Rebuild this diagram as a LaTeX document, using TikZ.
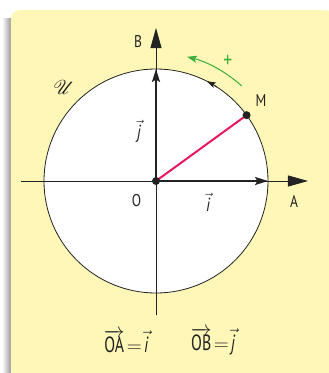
\documentclass[tikz,border=0pt]{standalone}
\usepackage{fontspec}
\usepackage{mathrsfs}
\usepackage{graphicx}
\setmainfont{PT Sans}[FakeStretch=0.8]
\newfontfamily\condfont{PT Sans}[FakeStretch=0.72]
\usetikzlibrary{arrows.meta}
\definecolor{boxyellow}{HTML}{FFF7B8}
\definecolor{redline}{HTML}{E8175D}
\definecolor{greenarr}{HTML}{3DAE3A}
\definecolor{ink}{HTML}{222222}
\tikzset{
  axis/.style={ink, line width=0.8pt, -{Triangle[length=20pt,width=11pt]}},
  vect/.style={ink, line width=2pt, -{Stealth[length=13pt,width=8pt,inset=2.5pt]}},
  lbl/.style={text=ink, font=\fontsize{17}{19}\selectfont, inner sep=0pt},
  veclbl/.style={text=ink, font=\fontsize{19}{21}\selectfont, inner sep=0pt},
  botlbl/.style={text=ink, font=\condfont\fontsize{22}{24}\selectfont, inner sep=0pt},
}
\begin{document}
\begin{tikzpicture}[x=1pt,y=1pt]
\useasboundingbox (-156,-192) rectangle (173,181);
% shadow
\fill[left color=white, right color=black!40] (-154,163) rectangle (-145,-195);
\fill[boxyellow, rounded corners=9pt] (-145,171) rectangle (178,-197);
% circle
\coordinate (O) at (0,0);
\draw[ink, line width=0.8pt, fill=white] (O) circle[radius=112];
% axes
\coordinate (xl) at (-135,0);
\coordinate (xr) at (152,0);
\coordinate (yb) at (0,-134);
\coordinate (yt) at (0,153);
\draw[axis] (xl) -- (xr);
\draw[axis] (yb) -- (yt);
% vectors
\coordinate (I) at (112,0);
\coordinate (J) at (0,112);
\draw[vect] (O) -- (I);
\draw[vect] (O) -- (J);
% point M
\coordinate (M) at (36:112);
\draw[redline, line width=2pt] (O) -- (M);
\fill[ink] (M) circle[radius=4];
\fill[ink] (O) circle[radius=4];
% arrow on the circle
\draw[ink, line width=0.8pt, -{Stealth[length=9pt,width=6pt,inset=2pt]}] (57:112) arc[start angle=57, end angle=63, radius=112];
% green orientation arrow
\draw[greenarr, line width=1pt, -{Stealth[length=10pt,width=7pt,inset=2pt]}] (48:128) arc[start angle=48, end angle=76, radius=128];
\node[text=greenarr, font=\fontsize{22}{24}\selectfont, inner sep=0pt] (plus) at (71.7,120) {+};
% labels
\node[lbl] (Bl) at (-18,139.5) {B};
\node[lbl] (Al) at (138,-20) {A};
\node[lbl] (Ol) at (-19.5,-19.5) {O};
\node[lbl] (Ml) at (105,80) {M};
\node[veclbl] (il) at (52,-21) {$\vec{\hbox{\itshape i}}$};
\node[veclbl] (jl) at (-17,50) {$\vec{\hbox{\itshape j}}$};
\node[text=ink, inner sep=0pt] (Ul) at (-92,94) {\scalebox{2.0}{$\mathscr{U}$}};
\node[botlbl] (eq1) at (-30,-160.5) {$\overrightarrow{\hbox{OA}}\!=\!\vec{\hbox{\itshape i}}$};
\node[botlbl] (eq2) at (57,-160.5) {$\overrightarrow{\hbox{OB}}\!=\!\vec{\hbox{\itshape j}}$};
\end{tikzpicture}
\end{document}
